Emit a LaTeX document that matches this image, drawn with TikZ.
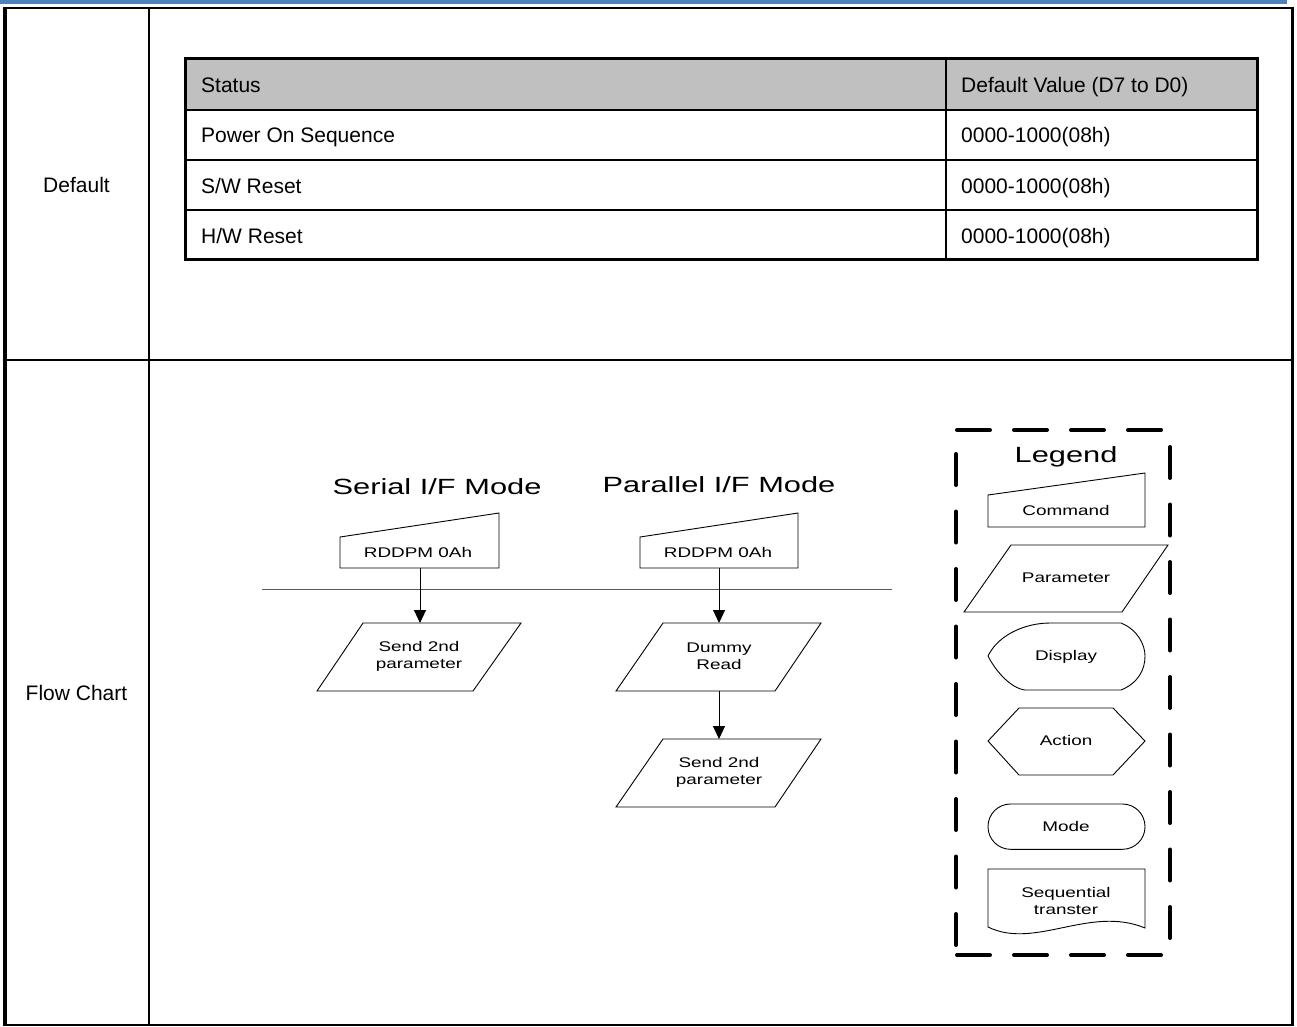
\documentclass[tikz,border=0pt]{standalone}
\usepackage{fontspec}
\setmainfont{Liberation Sans}
\usepackage{graphicx}
\usetikzlibrary{arrows.meta}
\newcommand{\sx}[1]{\scalebox{1.35}[1]{#1}}
\newcommand{\tx}[1]{\scalebox{1.4}[1]{#1}}
\definecolor{hdrgray}{RGB}{192,192,192}
\definecolor{topblue}{RGB}{79,129,189}
\definecolor{sepgray}{RGB}{90,90,90}
\begin{document}
\begin{tikzpicture}[x=1pt,y=-1pt,line join=miter,
  tbltext/.style={font=\fontsize{21}{25}\selectfont, anchor=west, inner sep=0pt, text height=15pt, text depth=0pt},
  lbl/.style={font=\fontsize{21}{25}\selectfont, inner sep=0pt, text height=15pt, text depth=0pt},
  fct/.style={font=\fontsize{14}{17}\selectfont, align=center, inner sep=0pt},
  fcone/.style={font=\fontsize{14}{17}\selectfont, inner sep=0pt, text height=10pt, text depth=0pt},
  ttl/.style={font=\fontsize{22}{26}\selectfont, inner sep=0pt, text height=15.7pt, text depth=0pt},
  shp/.style={draw=black, line width=0.9pt},
  arr/.style={-{Triangle[length=13pt,width=12pt]}, line width=1pt},
  leghz/.style={line width=4pt, line cap=round, dash pattern=on 33pt off 24pt},
  legvt/.style={line width=4pt, line cap=round, dash pattern=on 31pt off 26.5pt}]
% background / bounding box
\fill[white] (0,0) rectangle (1297,1026);
\useasboundingbox (0,0) rectangle (1297,1026);
% top blue rule
\fill[topblue] (0,0) rectangle (1287,3.5);
% outer table
\draw[line width=2pt] (4,8.3) -- (1294,8.3);
\draw[line width=1.5pt] (4,1025) -- (1294,1025);
\draw[line width=4pt] (5,7.3) -- (5,1025.7);
\draw[line width=3pt] (1292.5,7.3) -- (1292.5,1025.7);
\draw[line width=2pt] (148.5,8.3) -- (148.5,1025);
\draw[line width=2pt] (5,360) -- (1292.5,360);
% row labels
\node[lbl] (lDefault) at (76.5,185) {Default};
\node[lbl] (lFlow) at (76.5,693) {Flow Chart};
% inner table
\fill[hdrgray] (185.5,58.7) rectangle (1257.7,110);
\draw[line width=2pt] (185.5,110) -- (1257.7,110);
\draw[line width=2pt] (185.5,159.5) -- (1257.7,159.5);
\draw[line width=2pt] (185.5,209.5) -- (1257.7,209.5);
\draw[line width=2pt] (945.5,58.7) -- (945.5,259.7);
\draw[line width=3pt] (185.5,58.7) rectangle (1257.7,259.7);
\node[tbltext] (hStatus) at (201,85.3) {Status};
\node[tbltext] (hValue) at (961,85.3) {Default Value (D7 to D0)};
\node[tbltext] (r1a) at (201,135.3) {Power On Sequence};
\node[tbltext] (r1b) at (961,135.3) {0000-1000(08h)};
\node[tbltext] (r2a) at (201,185.8) {S/W Reset};
\node[tbltext] (r2b) at (961,185.8) {0000-1000(08h)};
\node[tbltext] (r3a) at (201,235.8) {H/W Reset};
\node[tbltext] (r3b) at (961,235.8) {0000-1000(08h)};
% flow chart titles
\node[ttl] (tSerial) at (437,487) {\tx{Serial I/F Mode}};
\node[ttl] (tParallel) at (719,485) {\tx{Parallel I/F Mode}};
% separator line
\coordinate (sepL) at (262,589.3);
\coordinate (sepR) at (892,589.3);
\draw[sepgray, line width=1.2pt] (sepL) -- (sepR);
% serial: command
\draw[shp] (340,537) -- (499,513) -- (499,568) -- (340,568) -- cycle;
\node[fcone] (sCmd) at (418,552.3) {\sx{RDDPM 0Ah}};
\coordinate (sCmdB) at (420,568);
% serial: parameter
\draw[shp] (363,623) -- (521,623) -- (473,691) -- (317,691) -- cycle;
\node[fct] (sPar) at (419,656) {\sx{Send 2nd}\\\sx{parameter}};
\coordinate (sParT) at (420,623);
\draw[arr] (sCmdB) -- (sParT);
% parallel: command
\draw[shp] (640,537) -- (798,513) -- (798,568) -- (640,568) -- cycle;
\node[fcone] (pCmd) at (718,552.3) {\sx{RDDPM 0Ah}};
\coordinate (pCmdB) at (719,568);
% parallel: dummy read
\draw[shp] (663,623) -- (821,623) -- (775,691) -- (616,691) -- cycle;
\node[fct] (pDum) at (719,656) {\sx{Dummy}\\\sx{Read}};
\coordinate (pDumT) at (719,623);
\coordinate (pDumB) at (719,691);
\draw[arr] (pCmdB) -- (pDumT);
% parallel: send 2nd
\draw[shp] (663,739) -- (821,739) -- (775,807) -- (616,807) -- cycle;
\node[fct] (pPar) at (719,772) {\sx{Send 2nd}\\\sx{parameter}};
\coordinate (pParT) at (719,739);
\draw[arr] (pDumB) -- (pParT);
% legend frame
\draw[leghz] (957,430) -- (1161,430);
\draw[leghz] (957,955) -- (1161,955);
\draw[legvt] (956,454) -- (956,945);
\draw[legvt] (1170,447) -- (1170,938);
\node[ttl] (lgTitle) at (1066,454.5) {\tx{Legend}};
% legend: command
\draw[shp] (988,495) -- (1145,473) -- (1145,527) -- (988,527) -- cycle;
\node[fcone] (lgCmd) at (1066,510.3) {\sx{Command}};
% legend: parameter
\draw[shp] (1011,545) -- (1168,545) -- (1122,612) -- (964,612) -- cycle;
\node[fcone] (lgPar) at (1066,577.5) {\sx{Parameter}};
% legend: display
\draw[shp] (1050,623) -- (1121,623) .. controls (1138,630) and (1145,645) .. (1145,656)
  .. controls (1145,670) and (1138,683) .. (1121,690) -- (1025,690)
  .. controls (1010,688) and (995,670) .. (988,656)
  .. controls (998,635) and (1025,623) .. (1050,623) -- cycle;
\node[fcone] (lgDisp) at (1066,655.8) {\sx{Display}};
% legend: action
\draw[shp] (988,741) -- (1019,708) -- (1113,708) -- (1145,741) -- (1113,775) -- (1019,775) -- cycle;
\node[fcone] (lgAct) at (1066,740.8) {\sx{Action}};
% legend: mode
\draw[shp, rounded corners=22.5pt] (988,804) rectangle (1145,849.3);
\node[fcone] (lgMode) at (1066,826) {\sx{Mode}};
% legend: sequential transfer
\draw[shp] (988,869) -- (1145,869) -- (1145,928) .. controls (1090,905) and (1035,950) .. (988,927) -- cycle;
\node[fct] (lgSeq) at (1066,901) {\sx{Sequential}\\\sx{transter}};
\end{tikzpicture}
\end{document}
